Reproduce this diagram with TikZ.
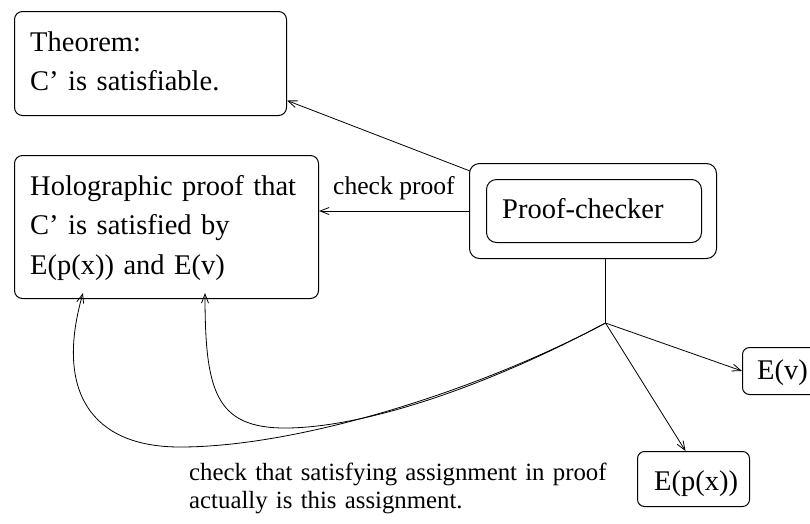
\documentclass[tikz,border=0pt]{standalone}
\usepackage{fontspec}
\setmainfont{Liberation Serif}
\usetikzlibrary{arrows.meta,calc}
\begin{document}
\begin{tikzpicture}[x=1pt,y=-1pt,
  box/.style={draw, line width=1pt, rounded corners=8pt, inner sep=0pt, anchor=north west},
  big/.style={font={\fontsize{28.5}{39.5}\selectfont\spaceskip=5.4pt\relax}},
  small/.style={font=\fontsize{24.8}{28.5}\selectfont},
  label/.style={font=\fontsize{25.6}{29}\selectfont},
  txt/.style={inner sep=0pt, anchor=base west, align=left},
  arr/.style={line width=0.8pt, -{Straight Barb[length=9pt,width=7pt]}},
  ln/.style={line width=0.8pt}]
\clip (0,0) rectangle (810,523);
% boxes
\node[box, minimum width=272pt, minimum height=104pt] (thm) at (14,11) {};
\node[box, minimum width=304pt, minimum height=143pt] (holo) at (14,155) {};
\node[box, rounded corners=10pt, minimum width=247pt, minimum height=95pt] (pc) at (469,163) {};
\node[box, rounded corners=10pt, minimum width=215pt, minimum height=63pt] (pcin) at (486,179) {};
\node[box, rounded corners=7pt, minimum width=80pt, minimum height=47pt] (ev) at (742,347) {};
\node[box, rounded corners=7pt, minimum width=112pt, minimum height=55pt] (epx) at (637,451) {};
% texts
\node[txt, big, text width=500pt] (thmtext) at (30,51) {Theorem:\\C’ is satisfiable.};
\node[txt, big, text width=500pt] (holotext) at (30,195) {Holographic proof that\\C’ is satisfied by\\E(p(x)) and E(v)};
\node[txt, big] (pctext) at (502,218) {Proof-checker};
\node[txt, big] (evtext) at (757,379) {E(v)};
\node[txt, big] (epxtext) at (654,490) {E(p(x))};
\node[txt, label] (cplabel) at (333,194) {check proof};
\node[txt, small, text width=600pt] (bottomtext) at (189,480) {check that satisfying assignment in proof\\actually is this assignment.};
% connectors
\coordinate (J) at (605.5,323);
\coordinate (tA) at ($(holo.south west)+(191,-6)$);
\coordinate (tB) at ($(holo.south west)+(69,-6)$);
\draw[arr] ($(pc.west)+(1,-40)$) -- ($(thm.east)+(0,37)$);
\draw[arr] (pc.west) -- (pc.west -| holo.east);
\draw[ln] (J |- pc.south) -- (J);
\draw[arr] (J) -- (ev.west);
\draw[arr] (J) -- ($(epx.north)+(-8,0)$);
\draw[arr] (J) .. controls (480,390) and (360,428) .. (285,428)
  .. controls (215,428) and (205,390) .. (tA);
\draw[arr] (J) .. controls (480,390) and (300,447) .. (180,447)
  .. controls (90,447) and (55,390) .. (tB);
\end{tikzpicture}
\end{document}
